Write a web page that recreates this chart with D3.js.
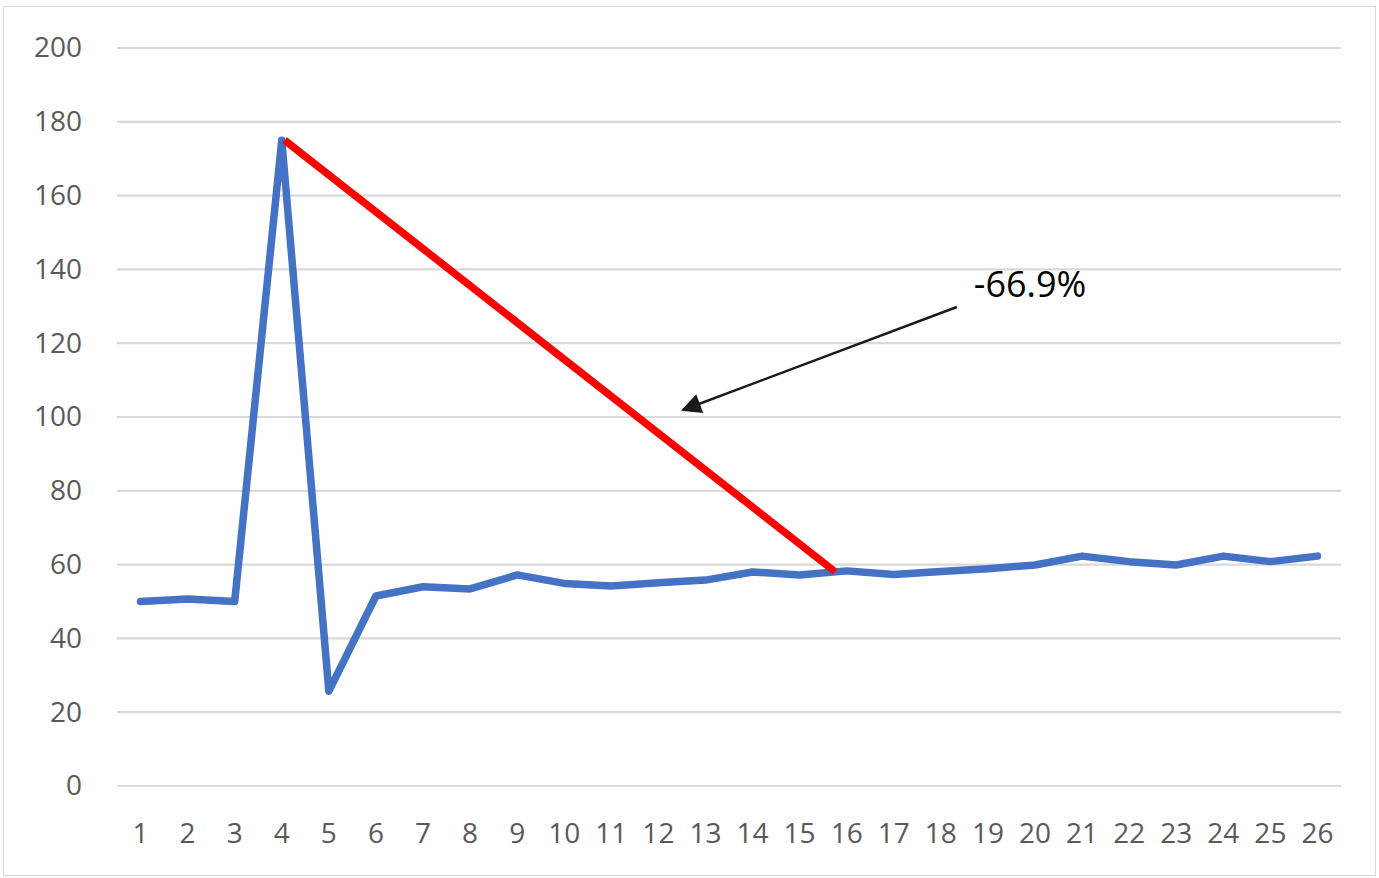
<!DOCTYPE html>
<html><head><meta charset="utf-8">
<script src="https://cdn.jsdelivr.net/npm/d3@7/dist/d3.min.js"></script>
<style>body{margin:0;background:#fff}svg{display:block}</style>
</head><body>
<svg id="c" width="1379" height="878"></svg>
<script>
const categories = d3.range(1, 27).map(String);
const values = [50, 50.7, 50, 175, 25.7, 51.5, 54, 53.4, 57.2, 54.9, 54.2, 55.1, 55.8, 58, 57.2, 58.3, 57.3, 58.1, 58.9, 59.9, 62.3, 60.8, 59.9, 62.3, 60.8, 62.3];
const yTicks = [0, 20, 40, 60, 80, 100, 120, 140, 160, 180, 200];
const dropLine = [{i: 4.06, v: 175}, {i: 15.75, v: 58.1}];
const arrowPts = [{i: 18.34, v: 129.8}, {i: 12.52, v: 101.9}];
const labelPos = {i: 18.7, v: 132.5, text: "-66.9%"};

const svg = d3.select("#c");
const W = 1379, H = 878;
const m = {left: 117, right: 38, top: 48, bottom: 92};

svg.append("rect").attr("x", 3.5).attr("y", 6.5).attr("width", W - 7).attr("height", H - 9)
  .attr("fill", "#fff").attr("stroke", "#d9d9d9").attr("stroke-width", 1);

const x = d3.scaleBand().domain(categories).range([m.left, W - m.right]);
const xi = d3.scaleLinear().domain([1, 26]).range([x("1") + x.bandwidth()/2, x("26") + x.bandwidth()/2]);
const y = d3.scaleLinear().domain([0, 200]).range([H - m.bottom, m.top]);

// gridlines
svg.append("g").selectAll("line").data(yTicks).join("line")
  .attr("x1", m.left).attr("x2", W - m.right)
  .attr("y1", d => y(d)).attr("y2", d => y(d))
  .attr("stroke", "#d9d9d9").attr("stroke-width", 2.2);

// y axis labels
const ya = svg.append("g").attr("transform", `translate(${m.left},0)`)
  .call(d3.axisLeft(y).tickValues(yTicks).tickSize(0).tickPadding(35));
ya.select(".domain").remove();
ya.selectAll("text").attr("font-family", "Open Sans").attr("font-size", 28).attr("fill", "#595959");

// x axis labels
const xa = svg.append("g").attr("transform", `translate(0,${H - m.bottom})`)
  .call(d3.axisBottom(x).tickSize(0).tickPadding(37));
xa.select(".domain").remove();
xa.selectAll("text").attr("font-family", "Open Sans").attr("font-size", 28).attr("fill", "#595959");

// series line
const line = d3.line().x((d, i) => x(categories[i]) + x.bandwidth()/2).y(d => y(d));
svg.append("path").datum(values).attr("d", line)
  .attr("fill", "none").attr("stroke", "#4472C4").attr("stroke-width", 7.5)
  .attr("stroke-linejoin", "round").attr("stroke-linecap", "round");

// red drop line
svg.append("path").datum(dropLine)
  .attr("d", d3.line().x(d => xi(d.i)).y(d => y(d.v)))
  .attr("fill", "none").attr("stroke", "#FF0000").attr("stroke-width", 7.5);

// arrow
svg.append("defs").append("marker").attr("id", "ah")
  .attr("viewBox", "0 0 10 10").attr("refX", 9).attr("refY", 5)
  .attr("markerWidth", 10).attr("markerHeight", 8).attr("markerUnits", "strokeWidth")
  .attr("orient", "auto")
  .append("path").attr("d", "M0,0 L10,5 L0,10 z").attr("fill", "#1a1a1a");
svg.append("path").datum(arrowPts)
  .attr("d", d3.line().x(d => xi(d.i)).y(d => y(d.v)))
  .attr("fill", "none").attr("stroke", "#1a1a1a").attr("stroke-width", 2.5)
  .attr("marker-end", "url(#ah)");

svg.append("text").attr("x", xi(labelPos.i)).attr("y", y(labelPos.v))
  .attr("font-family", "Open Sans").attr("font-size", 36).attr("fill", "#000")
  .text(labelPos.text);
</script>
</body></html>
